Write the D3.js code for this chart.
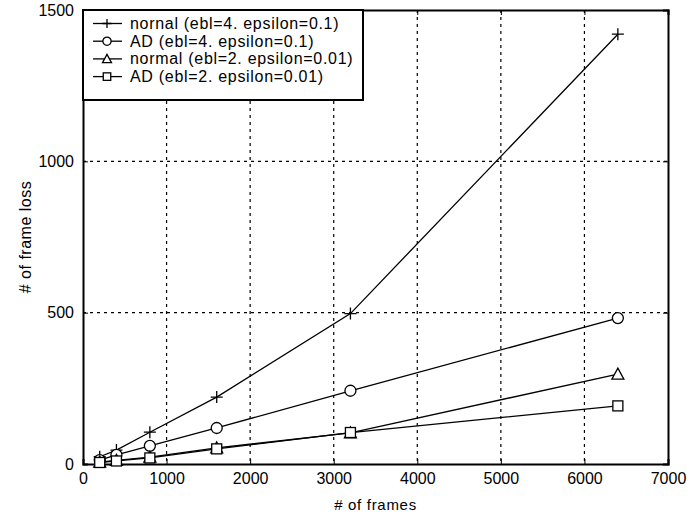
<!DOCTYPE html>
<meta charset="utf-8">
<script src="https://d3js.org/d3.v7.min.js"></script>
<style>
  body { margin: 0; background: #fff; }
  text { font-family: "Liberation Sans", Arial, sans-serif; }
</style>
<div id="chart"></div>
<script>
// data
const frames = [200, 400, 800, 1600, 3200, 6400];
const normal4 = [24, 46, 105, 221, 497, 1420];
const ad4 = [13, 30, 60, 119, 242, 482];
const normal2 = [6, 12, 23, 53, 103, 297];
const ad2 = [5, 10, 20, 50, 104, 192];
const seriesNames = ["nornal (ebl=4. epsilon=0.1)", "AD (ebl=4. epsilon=0.1)",
                     "normal (ebl=2. epsilon=0.01)", "AD (ebl=2. epsilon=0.01)"];
const markers = ["plus", "circle", "triangle", "square"];
const xTicks = [0, 1000, 2000, 3000, 4000, 5000, 6000, 7000];
const yTicks = [0, 500, 1000, 1500];

const series = [normal4, ad4, normal2, ad2].map((v, i) => ({
  name: seriesNames[i], marker: markers[i],
  values: v.map((y, j) => ({x: frames[j], y: y}))
}));

const margin = {top: 10, right: 32, bottom: 51, left: 83},
      width = 700 - margin.left - margin.right,
      height = 515 - margin.top - margin.bottom;

const svg = d3.select("#chart").append("svg")
    .attr("width", 700).attr("height", 515)
  .append("g")
    .attr("transform", "translate(" + margin.left + "," + margin.top + ")");

const x = d3.scaleLinear().domain([0, 7000]).range([0, width]);
const y = d3.scaleLinear().domain([0, 1500]).range([height, 0]);

// grid
svg.append("g").selectAll("line").data(xTicks.slice(1, -1)).enter().append("line")
  .attr("x1", d => x(d)).attr("x2", d => x(d)).attr("y1", 0).attr("y2", height)
  .attr("stroke", "#000").attr("stroke-dasharray", "3,4").attr("stroke-width", 1.2);
svg.append("g").selectAll("line").data(yTicks.slice(1, -1)).enter().append("line")
  .attr("y1", d => y(d)).attr("y2", d => y(d)).attr("x1", 0).attr("x2", width)
  .attr("stroke", "#000").attr("stroke-dasharray", "3,4").attr("stroke-width", 1.2);

// axes, inward ticks
svg.append("g").attr("transform", "translate(0," + height + ")")
  .call(d3.axisBottom(x).tickValues(xTicks).tickSize(-5).tickPadding(9).tickFormat(d3.format("d")));
svg.append("g")
  .call(d3.axisLeft(y).tickValues(yTicks).tickSize(-5).tickPadding(9).tickFormat(d3.format("d")));
svg.append("g").call(d3.axisTop(x).tickValues(xTicks).tickSize(-5).tickFormat(""));
svg.append("g").attr("transform", "translate(" + width + ",0)")
  .call(d3.axisRight(y).tickValues(yTicks).tickSize(-5).tickFormat(""));
svg.selectAll(".domain").attr("stroke", "#000").attr("stroke-width", 2);
svg.selectAll(".tick line").attr("stroke", "#000");
svg.selectAll(".tick text").attr("font-size", 16).attr("fill", "#000")
  .attr("font-family", "Liberation Sans, Arial, sans-serif");

// axis labels
svg.append("text").attr("x", width / 2).attr("y", height + 46)
  .attr("text-anchor", "middle").attr("font-size", 15).attr("letter-spacing", 0.7)
  .text("# of frames");
svg.append("text").attr("transform", "translate(-52," + height / 2 + ") rotate(-90)")
  .attr("text-anchor", "middle").attr("font-size", 16).attr("letter-spacing", 0.5)
  .text("# of frame loss");

function drawMarker(g, type, k) {
  if (type === "plus") {
    g.append("path").attr("d", `M${-6*k},0H${6*k}M0,${-6*k}V${6*k}`).attr("stroke", "#000").attr("stroke-width", 1.3);
  } else if (type === "circle") {
    g.append("circle").attr("r", 5.5 * k).attr("fill", "#fff").attr("stroke", "#000").attr("stroke-width", 1.3);
  } else if (type === "triangle") {
    g.append("path").attr("d", `M0,${-6*k}L${6*k},${5*k}H${-6*k}Z`).attr("fill", "#fff").attr("stroke", "#000").attr("stroke-width", 1.3);
  } else {
    g.append("rect").attr("x", -5 * k).attr("y", -5 * k).attr("width", 10 * k).attr("height", 10 * k)
      .attr("fill", "#fff").attr("stroke", "#000").attr("stroke-width", 1.3);
  }
}

const line = d3.line().x(d => x(d.x)).y(d => y(d.y));
series.forEach(s => {
  svg.append("path").datum(s.values).attr("d", line)
    .attr("fill", "none").attr("stroke", "#000").attr("stroke-width", 1.3);
});
series.forEach(s => {
  s.values.forEach(d => {
    drawMarker(svg.append("g").attr("transform", "translate(" + x(d.x) + "," + y(d.y) + ")"), s.marker, 1);
  });
});

// legend
const leg = svg.append("g");
leg.append("rect").attr("x", 0).attr("y", 0).attr("width", 280).attr("height", 90)
  .attr("fill", "#fff").attr("stroke", "#000").attr("stroke-width", 2);
series.forEach((s, i) => {
  const gy = 13.5 + i * 17.7;
  leg.append("line").attr("x1", 10).attr("x2", 39).attr("y1", gy).attr("y2", gy)
    .attr("stroke", "#000").attr("stroke-width", 1.3);
  drawMarker(leg.append("g").attr("transform", "translate(24," + gy + ")"), s.marker, 0.75);
  leg.append("text").attr("x", 47).attr("y", gy + 5.5).attr("font-size", 16)
    .attr("letter-spacing", 0.7).text(s.name);
});
</script>
